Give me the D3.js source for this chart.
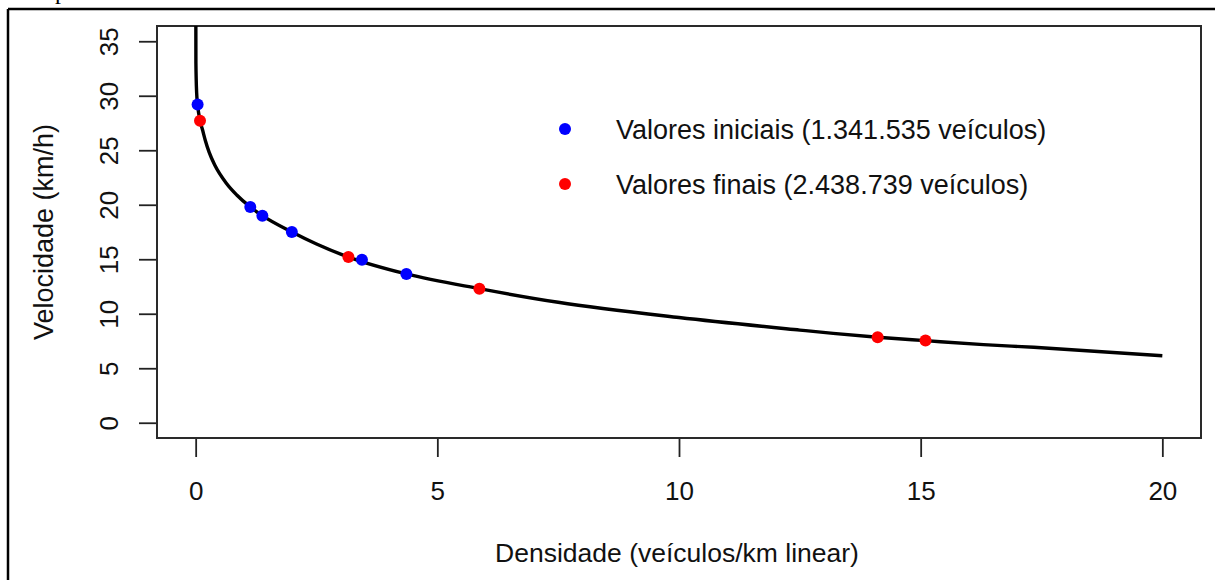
<!DOCTYPE html>
<html>
<head>
<meta charset="utf-8">
<script src="https://cdn.jsdelivr.net/npm/d3@7"></script>
<style>
  html, body { margin: 0; padding: 0; background: #fff; }
  svg { display: block; }
  text { font-family: "Liberation Sans", Arial, sans-serif; fill: #111; }
</style>
</head>
<body>
<svg id="chart" width="1215" height="580"></svg>
<script>
// Speed–density curve (km/h vs vehicles per linear km)
const curveDensity = [0.001, 0.005, 0.02, 0.04, 0.09, 0.14, 0.2, 0.28, 0.4, 0.63, 0.85, 1.13, 1.38, 1.99, 2.5, 3.16, 4.36, 5.87, 7.5, 10, 12.5, 13.19, 14.11, 15.1, 16.3, 17.34, 20];
const curveSpeed   = [45, 33, 30.3, 29.2, 27.7, 26.9, 25.9, 24.8, 23.6, 22.0, 20.9, 19.8, 19.0, 17.5, 16.4, 15.2, 13.65, 12.3, 11.05, 9.65, 8.5, 8.2, 7.84, 7.53, 7.17, 6.92, 6.15];

// Initial observed values
const initialDensity = [0.04, 1.13, 1.38, 1.99, 3.44, 4.36];
const initialSpeed   = [29.2, 19.8, 19.0, 17.5, 14.95, 13.65];

// Final observed values
const finalDensity = [0.09, 3.16, 5.87, 14.11, 15.10];
const finalSpeed   = [27.7, 15.2, 12.3, 7.85, 7.55];

const xTicks = [0, 5, 10, 15, 20];
const yTicks = [0, 5, 10, 15, 20, 25, 30, 35];

const legendLabels = ["Valores iniciais (1.341.535 veículos)", "Valores finais (2.438.739 veículos)"];
const legendColors = ["#0000ff", "#ff0000"];

const xTitle = "Densidade (veículos/km linear)";
const yTitle = "Velocidade (km/h)";

const svg = d3.select("#chart");
const plot = { left: 157, right: 1201, top: 26, bottom: 438 };

const x = d3.scaleLinear().domain([-0.8, 20.8]).range([plot.left, plot.right]);
const y = d3.scaleLinear().domain([-1.4, 36.4]).range([plot.bottom, plot.top]);

// page frame lines
svg.append("line").attr("x1", 8).attr("x2", 8).attr("y1", 9).attr("y2", 580)
  .attr("stroke", "#000").attr("stroke-width", 2.5);
svg.append("line").attr("x1", 8).attr("x2", 1215).attr("y1", 9).attr("y2", 9)
  .attr("stroke", "#000").attr("stroke-width", 2.5);
// descender of the caption line above the frame
svg.append("text").attr("x", 55).attr("y", -1)
  .style("font-family", "'Liberation Serif', 'Times New Roman', serif")
  .style("font-size", "24px").style("fill", "#000").text("p");

svg.append("defs").append("clipPath").attr("id", "plotClip")
  .append("rect").attr("x", plot.left).attr("y", plot.top)
  .attr("width", plot.right - plot.left).attr("height", plot.bottom - plot.top);

// x axis
const xAxis = svg.append("g").attr("transform", `translate(0,${plot.bottom})`)
  .call(d3.axisBottom(x).tickValues(xTicks).tickSize(19).tickSizeOuter(0).tickPadding(25));
xAxis.select(".domain").remove();
xAxis.selectAll(".tick line").attr("stroke", "#222").attr("stroke-width", 1.8);
xAxis.selectAll(".tick text").style("font-size", "26px").style("fill", "#111")
  .style("font-family", "'Liberation Sans', Arial, sans-serif");

// y axis
const yAxis = svg.append("g").attr("transform", `translate(${plot.left},0)`)
  .call(d3.axisLeft(y).tickValues(yTicks).tickSize(18).tickSizeOuter(0));
yAxis.select(".domain").remove();
yAxis.selectAll(".tick line").attr("stroke", "#222").attr("stroke-width", 1.8);
yAxis.selectAll(".tick text")
  .attr("transform", "rotate(-90)")
  .attr("x", 0).attr("y", -39).attr("dy", 0)
  .attr("text-anchor", "middle")
  .style("font-size", "26px").style("fill", "#111")
  .style("font-family", "'Liberation Sans', Arial, sans-serif");

// plot box
svg.append("rect").attr("x", plot.left).attr("y", plot.top)
  .attr("width", plot.right - plot.left).attr("height", plot.bottom - plot.top)
  .attr("fill", "none").attr("stroke", "#2a2a2a").attr("stroke-width", 2);

// axis titles
svg.append("text").attr("x", (x(0) + x(20)) / 2 - 2).attr("y", 562)
  .attr("text-anchor", "middle").style("font-size", "26.5px").text(xTitle);
svg.append("text")
  .attr("transform", `translate(53,${(plot.top + plot.bottom) / 2}) rotate(-90)`)
  .attr("text-anchor", "middle").style("font-size", "27px").text(yTitle);

// fitted curve
const curveData = curveDensity.map((k, i) => ({ k, v: curveSpeed[i] }));
const line = d3.line().x(d => x(d.k)).y(d => y(d.v)).curve(d3.curveMonotoneX);
svg.append("path").datum(curveData)
  .attr("clip-path", "url(#plotClip)")
  .attr("d", line).attr("fill", "none")
  .attr("stroke", "#000").attr("stroke-width", 3.4);

// observed points
const pts = svg.append("g");
pts.selectAll("circle.ini").data(initialDensity.map((k, i) => ({ k, v: initialSpeed[i] })))
  .join("circle").attr("class", "ini")
  .attr("cx", d => x(d.k)).attr("cy", d => y(d.v)).attr("r", 6).attr("fill", legendColors[0]);
pts.selectAll("circle.fin").data(finalDensity.map((k, i) => ({ k, v: finalSpeed[i] })))
  .join("circle").attr("class", "fin")
  .attr("cx", d => x(d.k)).attr("cy", d => y(d.v)).attr("r", 6).attr("fill", legendColors[1]);

// legend
const legend = svg.append("g");
legendLabels.forEach((lab, i) => {
  const cy = 129 + i * 55;
  legend.append("circle").attr("cx", 565).attr("cy", cy).attr("r", 6).attr("fill", legendColors[i]);
  legend.append("text").attr("x", 616).attr("y", cy + 10)
    .style("font-size", "27px").text(lab);
});
</script>
</body>
</html>
